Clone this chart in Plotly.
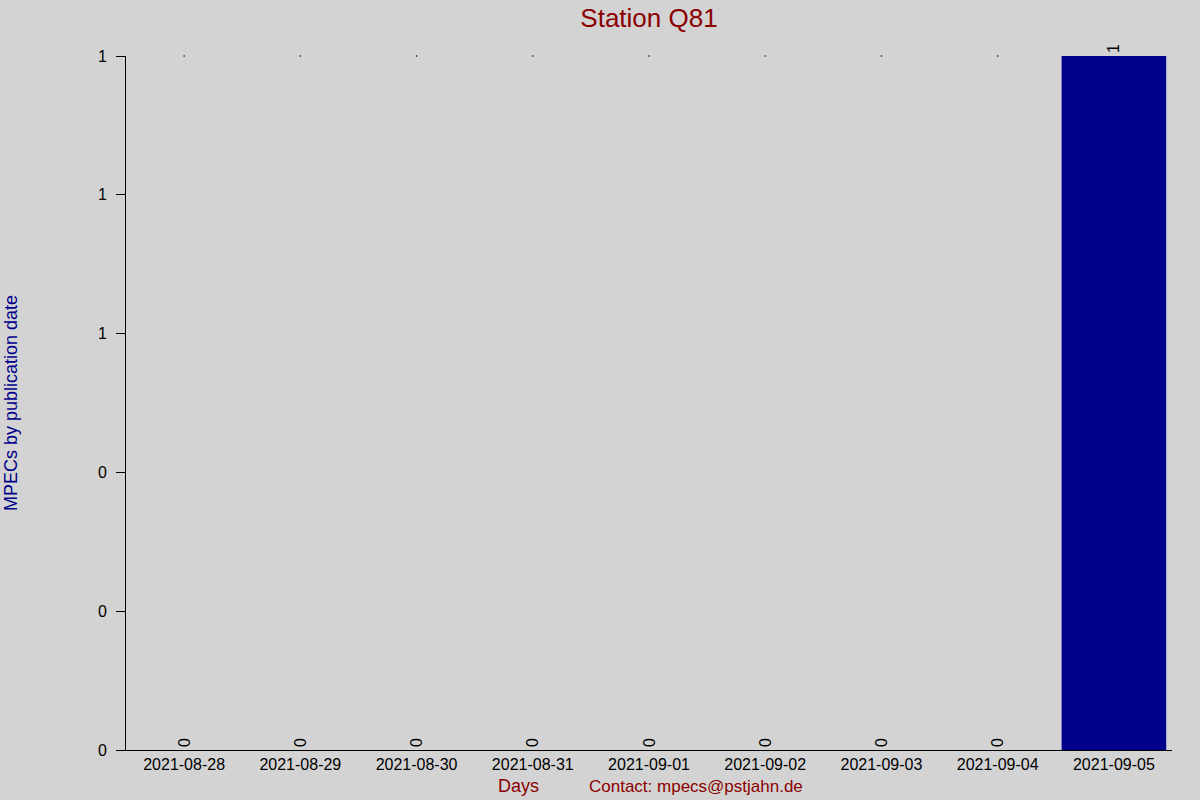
import plotly.graph_objects as go

# data
days = ['2021-08-28', '2021-08-29', '2021-08-30', '2021-08-31', '2021-09-01',
        '2021-09-02', '2021-09-03', '2021-09-04', '2021-09-05']
mpecs = [0, 0, 0, 0, 0, 0, 0, 0, 1]
y_tickvals = [0, 0.2, 0.4, 0.6, 0.8, 1.0]
y_ticktext = ['0', '0', '0', '1', '1', '1']

W, H = 1200, 800
L, R, T, B = 126, 28, 56, 50
pw, ph = W - L - R, H - T - B


def px(x):
    return (x - L) / pw


def py(y):
    return (H - B - y) / ph


fig = go.Figure()

fig.add_trace(go.Bar(
    x=days, y=mpecs,
    marker=dict(color='#00008b', line=dict(width=0)),
    text=[str(v) for v in mpecs],
    textposition='outside',
    textangle=-90,
    textfont=dict(family='Arial, Liberation Sans', size=16, color='black'),
    cliponaxis=False,
    showlegend=False,
))

# tiny dots along the top for empty days
zero_days = [d for d, v in zip(days, mpecs) if v == 0]
fig.add_trace(go.Scatter(
    x=zero_days,
    y=[max(mpecs)] * len(zero_days),
    mode='markers',
    marker=dict(size=1.5, color='black'),
    cliponaxis=False,
    showlegend=False, hoverinfo='skip',
))

fig.update_layout(
    width=W, height=H,
    paper_bgcolor='#d3d3d3', plot_bgcolor='#d3d3d3',
    margin=dict(l=L, r=R, t=T, b=B),
    font=dict(family='Arial, Liberation Sans', size=16, color='black'),
    title=dict(text='Station Q81', x=649 / W, xanchor='center', y=1 - 18 / H, yanchor='middle',
               font=dict(size=26, color='#8b0000')),
    bargap=0.1,
    xaxis=dict(type='category', showline=True, linecolor='black', linewidth=1, ticks='',
               showgrid=False, zeroline=False, tickfont=dict(size=16)),
    yaxis=dict(range=[0, 1], showline=True, linecolor='black', linewidth=1,
               ticks='outside', ticklen=9, tickcolor='black',
               tickvals=y_tickvals, ticktext=y_ticktext, ticklabelstandoff=6,
               showgrid=False, zeroline=False, tickfont=dict(size=16)),
)

fig.add_annotation(text='MPECs by publication date', x=px(11), y=py(403),
                   xref='paper', yref='paper', xanchor='center', yanchor='middle',
                   showarrow=False, textangle=-90,
                   font=dict(size=18, color='#00008b'))
fig.add_annotation(text='Days', x=px(518), y=py(786),
                   xref='paper', yref='paper', xanchor='center', yanchor='middle',
                   showarrow=False, font=dict(size=18, color='#8b0000'))
fig.add_annotation(text='Contact: mpecs@pstjahn.de', x=px(696), y=py(786),
                   xref='paper', yref='paper', xanchor='center', yanchor='middle',
                   showarrow=False, font=dict(size=17, color='#8b0000'))

fig.write_html('out.html', config={'displayModeBar': False},
               post_script="document.body.style.margin='0';")
